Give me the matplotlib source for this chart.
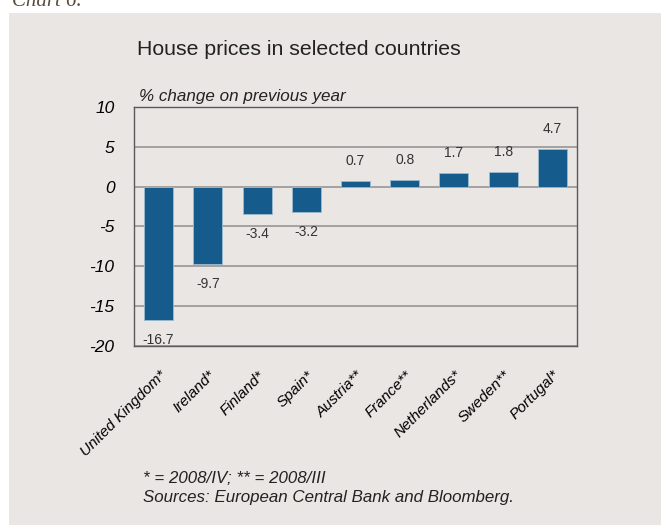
import matplotlib.pyplot as plt
from matplotlib.patches import Rectangle

plt.rcParams['font.family'] = ['Liberation Sans', 'DejaVu Sans']
plt.rcParams['axes.unicode_minus'] = False

countries = ['United Kingdom*', 'Ireland*', 'Finland*', 'Spain*', 'Austria**',
             'France**', 'Netherlands*', 'Sweden**', 'Portugal*']
change = [-16.7, -9.7, -3.4, -3.2, 0.7, 0.8, 1.7, 1.8, 4.7]
yticks = [-20, -15, -10, -5, 0, 5, 10]

panel = '#e9e6e3'
bar_col = '#155b8b'

fig = plt.figure(figsize=(6.61, 5.25), dpi=100, facecolor='white')
fig.patches.append(Rectangle((9 / 661, 0), 1, 1 - 13 / 525, transform=fig.transFigure,
                             facecolor=panel, edgecolor='none', zorder=-5))

# chart number, cut by the top edge
fig.text(12 / 661, 1 - 6 / 525, 'Chart 6.', family='Liberation Serif', style='italic',
         fontsize=15, color='#5b4b3b', va='baseline')

ax = fig.add_axes([134 / 661, 1 - 346 / 525, 443 / 661, 239 / 525])
ax.set_facecolor(panel)

x = range(len(countries))
ax.bar(x, change, width=0.59, color=bar_col, edgecolor='#9dbad0', linewidth=0.6, zorder=3)

for xi, v in zip(x, change):
    off = 14.5 if v > 0 else -14.5
    ax.annotate(f'{v:.1f}', (xi, v), xytext=(0, off), textcoords='offset points',
                ha='center', va='center', fontsize=10, color='#333333')

ax.set_xlim(-0.5, len(countries) - 0.5)
ax.set_ylim(-20, 10)
ax.set_yticks(yticks)
ax.yaxis.grid(True, color='#8f8f8f', linewidth=1.1, zorder=1)
ax.set_axisbelow(True)
ax.tick_params(axis='y', length=0, pad=14, labelsize=12.5)
ax.tick_params(axis='x', length=0, pad=16, labelsize=11)
for lab in ax.get_yticklabels():
    lab.set_style('italic')
ax.set_xticks(list(x))
ax.set_xticklabels(countries, rotation=45, ha='right', rotation_mode='anchor', style='italic')

for s in ax.spines.values():
    s.set_color('#5a5a5a')
    s.set_linewidth(1)

fig.text(137 / 661, 1 - 55 / 525, 'House prices in selected countries', fontsize=15.3,
         color='#222222', va='baseline')
fig.text(139 / 661, 1 - 101 / 525, '% change on previous year', fontsize=12.25,
         style='italic', color='#222222', va='baseline')
fig.text(143 / 661, 1 - 483 / 525, '* = 2008/IV; ** = 2008/III', fontsize=12.2,
         style='italic', color='#222222', va='baseline')
fig.text(143 / 661, 1 - 502 / 525, 'Sources: European Central Bank and Bloomberg.', fontsize=12.2,
         style='italic', color='#222222', va='baseline')

fig.savefig('out.png', dpi=100, facecolor=fig.get_facecolor())
